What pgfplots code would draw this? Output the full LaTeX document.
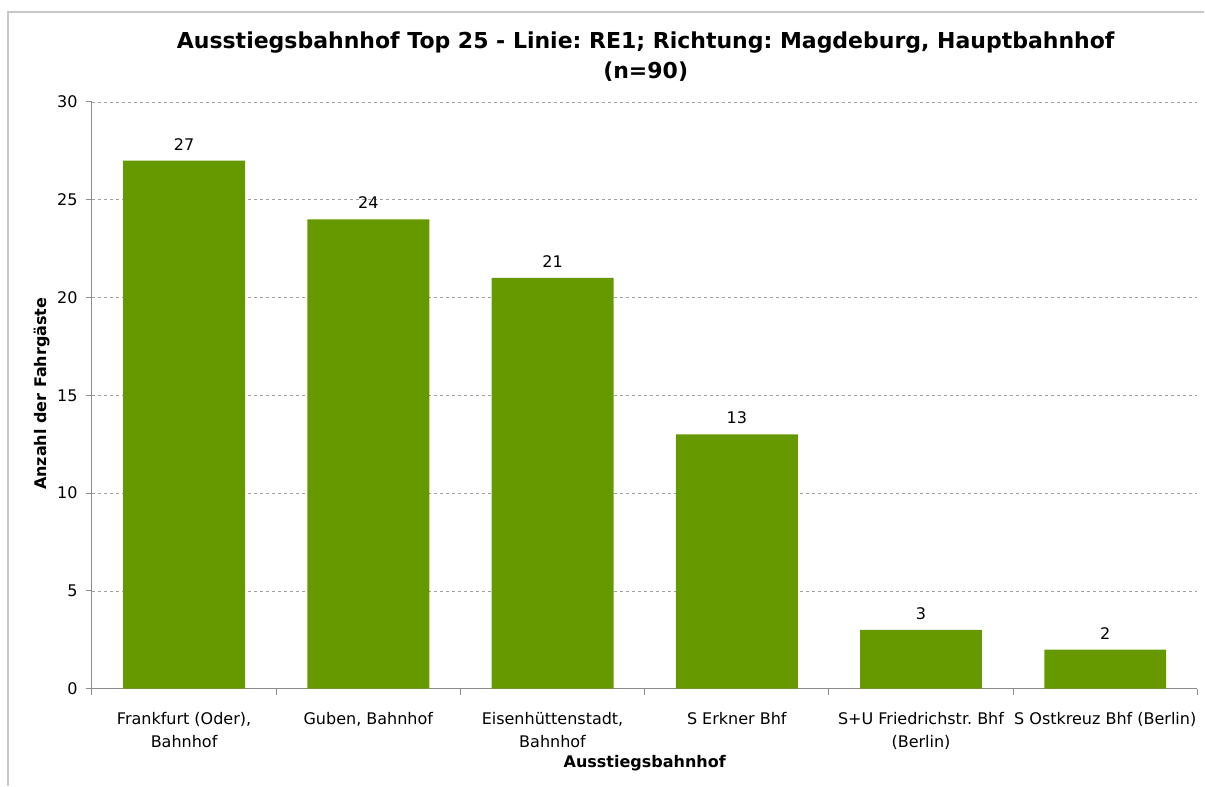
\documentclass[border=0pt]{standalone}
\usepackage{pgfplots}
\pgfplotsset{compat=1.18}
\usepackage{fontspec}
\setmainfont{DejaVu Sans}
\frenchspacing
\definecolor{bargreen}{HTML}{669900}
\definecolor{axgray}{HTML}{8C8C8C}
\definecolor{gridgray}{HTML}{A0A0A0}

\pgfplotstableread{
x  n
0  27
1  24
2  21
3  13
4  3
5  2
}\datatable

\begin{document}
\begin{tikzpicture}[x=1pt,y=1pt]
	% canvas and outer chart frame
	\path (0,0) rectangle (1205,786);
	\draw[color=black!22, line width=1.2pt] (8,0) -- (8,774) -- (1205,774);
	\begin{axis}[
		at={(92pt,97pt)},
		anchor=south west,
		scale only axis,
		width=1106pt,
		height=587pt,
		xmin=-0.5, xmax=5.5,
		ymin=0, ymax=30,
		ytick={0,5,...,30},
		xtick={0,...,5},
		xticklabels={{Frankfurt (Oder),\\Bahnhof},{Guben, Bahnhof},{Eisenhüttenstadt,\\Bahnhof},{S Erkner Bhf},{S+U Friedrichstr. Bhf\\(Berlin)},{S Ostkreuz Bhf (Berlin)}},
		minor xtick={-0.5,0.5,...,5.5},
		major x tick style={draw=none},
		minor tick length=6pt,
		major tick length=6pt,
		tick align=outside,
		axis x line*=bottom,
		axis y line*=left,
		axis line style={axgray, line width=1pt, -},
		every tick/.style={axgray, line width=1pt},
		ymajorgrids,
		major grid style={gridgray, dashed, line width=0.6pt},
		xticklabel style={align=center, font=\fontsize{16}{23}\selectfont, yshift=-14pt},
		yticklabel style={font=\fontsize{16}{19}\selectfont, xshift=-5pt},
		/pgf/number format/assume math mode=true,
		ybar,
		bar width=122pt,
		nodes near coords,
		nodes near coords style={font=\fontsize{16}{19}\selectfont, yshift=7pt, black},
		clip=false,
	]
	\addplot[fill=bargreen, draw=none] table[x=x, y=n] {\datatable};
	\end{axis}
	\node[font=\bfseries\fontsize{22}{30}\selectfont, align=center] at (646,729.5)
		{Ausstiegsbahnhof Top 25 - Linie: RE1; Richtung: Magdeburg, Hauptbahnhof\\(n=90)};
	\node[font=\bfseries\fontsize{16}{19}\selectfont] at (645,22) {Ausstiegsbahnhof};
	\node[font=\bfseries\fontsize{16}{19}\selectfont, rotate=90] at (42,392) {Anzahl der Fahrgäste};
\end{tikzpicture}
\end{document}
